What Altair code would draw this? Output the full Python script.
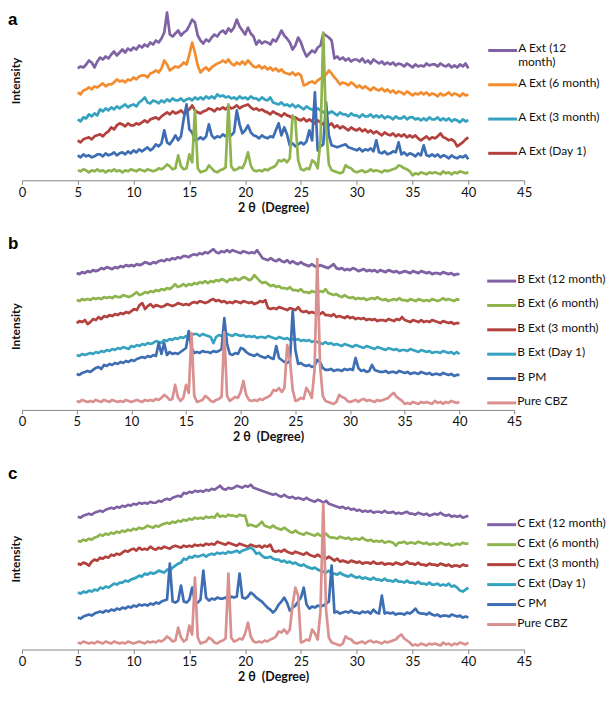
import altair as alt
import pandas as pd

FONT = "Lato"

# sampling grid of the diffractograms (2-theta, degrees)
X = [5 + 0.25 * i for i in range(141)]
X_TICKS = [0, 5, 10, 15, 20, 25, 30, 35, 40, 45]

# ---------------- panel a ----------------
A_12M = [112,114,113,116, 120,118,113,119, 123,121,124,122, 126,129,125,128, 131,128,132,130,
         133,131,135,133, 136,134,138,136, 140,138,142,148, 168,146,144,147, 150,145,148,150,
         155,161,158,145, 140,137,141,139, 143,146,144,148, 150,147,152,149, 153,161,154,150,
         146,153,147,144, 136,140,137,139, 138,136,141,139, 144,150,145,142, 138,131,135,143,
         138,130,124,127, 130,128,133,135, 147,145,143,140, 122,124,121,123, 120,122,119,121,
         121,119,122,118, 120,117,121,119, 117,119,116,118, 116,118,115,117, 116,114,117,115,
         113,116,114,115, 114,117,115,116, 116,114,117,115, 114,116,113,115, 113,116,114,117,
         112]
A_6M = [88,86,90,91, 93,91,94,93, 95,97,94,96, 96,98,101,99, 100,98,101,100,
        103,101,104,105, 105,103,107,108, 110,108,112,120, 116,110,112,114, 113,115,118,116,
        126,138,128,115, 108,111,113,110, 113,115,117,118, 120,118,121,117, 115,118,116,119,
        116,120,117,114, 113,115,112,114, 111,113,110,112, 109,111,108,107, 106,108,105,107,
        105,95,96,98, 99,97,100,102, 103,106,110,107, 103,100,96,98, 97,95,98,96,
        93,95,92,94, 92,90,93,91, 90,92,89,91, 88,90,87,89, 88,86,89,87,
        85,87,86,88, 86,88,85,87, 86,84,87,85, 86,88,85,87, 86,84,87,85,
        86]
A_3M = [61,59,63,62, 66,64,67,65, 71,69,72,70, 73,71,74,72, 74,76,73,75,
        76,74,78,80, 83,78,77,80, 79,77,80,78, 81,79,82,80, 80,82,79,81,
        82,80,83,81, 83,81,84,82, 84,82,86,84, 85,83,84,82, 83,81,84,82,
        83,81,84,82, 82,80,83,81, 80,83,78,77, 76,78,75,76, 74,76,73,75,
        73,71,74,72, 71,69,72,70, 68,70,67,69, 67,65,68,66, 66,64,67,65,
        65,63,66,64, 64,66,63,65, 63,65,62,64, 63,61,64,62, 62,64,61,63,
        63,61,62,60, 62,60,63,61, 61,63,60,62, 60,62,59,61, 60,58,61,59,
        60]
A_D1 = [40,38,41,42, 43,41,44,45, 46,44,47,49, 53,51,55,57, 56,54,57,55,
        55,57,56,58, 60,58,61,62, 63,61,64,66, 68,66,69,67, 68,70,67,69,
        71,75,70,68, 67,69,70,72, 71,69,72,71, 73,71,74,72, 73,75,72,74,
        75,76,73,71, 72,70,71,69, 68,66,69,67, 66,64,67,65, 64,62,63,61,
        60,62,59,61, 59,57,60,58, 56,58,55,57, 53,55,52,54, 52,50,53,51,
        50,52,49,51, 48,50,47,49, 47,45,48,46, 45,47,44,46, 44,46,43,45,
        43,45,42,40, 42,44,41,43, 42,44,47,43, 42,40,41,39, 34,36,38,41,
        43]
A_PM = [25,23,26,24, 25,23,24,26, 26,24,27,25, 26,28,25,27, 28,26,29,27,
        30,28,31,29, 31,33,30,32, 36,34,37,50, 38,36,40,45, 40,44,62,76,
        51,48,40,41, 43,41,44,56, 45,42,44,43, 46,44,47,45, 48,70,56,47,
        50,55,48,45, 44,42,45,43, 42,44,43,50, 57,45,53,46, 35,37,34,36,
        38,36,39,50, 40,88,30,34, 36,78,45,35, 34,33,34,35, 36,33,32,31,
        30,32,29,31, 30,32,29,40, 28,27,29,26, 27,29,28,38, 26,28,25,27,
        26,24,27,25, 35,25,24,26, 24,26,23,25, 24,22,25,23, 22,24,23,25,
        21]
A_CBZ = [10,9,11,10, 8,10,9,11, 9,10,8,10, 9,11,9,10, 8,10,9,11,
         10,9,11,10, 9,11,10,9, 10,12,11,13, 16,14,11,12, 25,14,11,12,
         26,18,70,12, 8,9,10,15, 12,9,8,10, 11,13,76,14, 10,11,13,12,
         18,28,15,10, 9,10,9,11, 10,12,13,15, 20,19,21,18, 22,65,60,20,
         11,10,12,11, 20,18,12,40, 148,53,16,10, 9,8,7,8, 15,13,12,9,
         8,9,10,8, 9,11,9,10, 9,8,10,9, 10,11,12,15, 14,12,11,9,
         5,7,6,8, 7,6,8,7, 8,7,6,9, 7,8,6,8, 7,9,8,7,
         8]

# ---------------- panel b ----------------
B_12M = [137,136,138,137, 139,138,140,139, 140,142,141,143, 142,141,143,142, 144,143,145,144,
         145,144,146,145, 146,148,147,146, 148,147,149,150, 149,151,150,152, 151,153,152,154,
         154,153,155,156, 155,157,156,158, 157,159,161,158, 157,159,158,160, 158,160,159,158,
         157,159,158,157, 158,157,160,156, 152,151,150,152, 150,149,151,149, 148,150,147,149,
         147,146,148,146, 145,144,146,144, 143,145,144,143, 142,144,146,142, 141,142,140,141,
         140,142,141,139, 140,141,139,140, 139,140,138,140, 139,138,140,139, 138,139,137,138,
         139,138,137,139, 138,137,139,138, 137,138,136,137, 137,136,138,137, 136,137,135,136,
         136]
B_6M = [110,109,111,110, 111,110,112,111, 112,111,113,112, 113,112,114,113, 113,115,114,113,
        114,116,118,115, 116,118,117,119, 118,120,119,121, 120,122,121,123, 126,123,124,126,
        124,126,125,127, 126,128,127,129, 127,129,128,130, 129,131,130,128, 131,130,132,130,
        131,133,132,130, 131,135,132,129, 127,128,126,124, 125,123,124,122, 122,121,123,120,
        120,119,121,118, 118,117,119,118, 117,119,118,121, 117,116,115,116, 114,113,115,113,
        112,113,111,112, 111,112,110,111, 112,111,113,111, 110,111,109,110, 111,110,112,110,
        110,109,111,110, 109,111,110,109, 110,109,111,110, 109,110,112,110, 111,110,109,111,
        110]
B_3M = [87,89,88,90, 86,88,91,90, 93,91,94,93, 95,94,96,95, 97,96,98,97,
        99,101,100,105, 107,101,104,106, 103,105,104,103, 104,106,105,104, 105,107,106,105,
        106,105,107,108, 107,109,108,107, 108,110,111,109, 110,108,109,107, 108,107,109,108,
        107,109,108,107, 108,106,107,109, 108,110,102,101, 102,101,103,102, 101,100,102,101,
        100,103,99,98, 99,97,98,97, 97,96,98,95, 95,94,96,93, 94,93,92,94,
        92,93,91,92, 91,92,90,91, 90,91,89,90, 90,89,91,90, 89,91,90,93,
        90,89,88,90, 89,88,90,88, 89,88,90,89, 88,87,89,88, 87,88,86,87,
        87]
B_D1 = [55,54,56,55, 56,57,56,58, 57,59,58,60, 59,61,60,62, 61,63,62,61,
        64,63,65,64, 66,65,67,66, 67,69,68,67, 70,69,71,70, 72,71,73,72,
        74,73,75,76, 76,74,76,75, 74,73,67,73, 75,74,77,76, 75,74,76,75,
        74,75,73,74, 73,74,72,73, 73,72,74,73, 72,71,73,72, 71,72,70,71,
        70,71,69,70, 69,70,68,69, 68,67,66,68, 66,67,65,66, 65,64,66,65,
        64,63,65,64, 63,62,64,63, 62,61,63,62, 61,60,62,61, 60,61,59,60,
        60,59,61,60, 59,58,60,59, 58,59,57,58, 58,57,59,58, 57,58,56,58,
        56]
B_PM = [36,35,37,38, 39,38,40,42, 43,41,45,44, 46,45,47,46, 48,47,49,48,
        50,49,51,52, 53,52,54,53, 55,54,67,56, 67,55,58,56, 57,56,58,60,
        62,79,62,57, 58,57,59,58, 58,57,59,58, 59,61,92,66, 56,55,57,56,
        62,61,58,56, 55,54,56,54, 53,52,54,52, 51,64,52,50, 48,47,49,99,
        60,46,47,45, 44,45,43,44, 50,48,42,40, 40,41,39,40, 40,39,41,40,
        41,40,52,42, 39,40,38,39, 45,40,39,38, 38,39,37,38, 38,37,39,38,
        37,38,36,37, 37,36,38,37, 36,37,35,36, 36,35,37,36, 35,36,34,35,
        35]
B_CBZ = [9,8,10,9, 8,9,8,10, 9,8,10,9, 8,10,9,8, 9,8,10,9,
         8,9,10,9, 8,10,9,10, 9,11,10,12, 15,13,10,11, 25,13,9,12,
         25,17,77,14, 8,9,10,14, 12,9,8,10, 11,13,78,14, 9,11,13,12,
         18,29,15,10, 9,10,9,11, 10,12,13,15, 20,19,22,18, 22,65,50,20,
         9,10,12,11, 22,18,12,40, 151,45,14,9, 8,7,6,8, 15,13,12,9,
         8,9,10,8, 10,11,9,10, 9,8,10,9, 10,11,12,15, 17,13,11,9,
         6,7,6,8, 7,6,8,7, 8,7,6,9, 7,8,6,8, 7,9,8,7,
         8]

# ---------------- panel c ----------------
C_12M = [133,132,134,135, 136,135,137,138, 139,138,140,141, 142,141,143,142, 144,143,145,144,
         146,145,147,146, 147,146,148,147, 147,149,148,150, 151,150,152,153, 154,153,157,156,
         158,157,159,158, 159,158,160,159, 161,160,162,164, 161,160,162,161, 162,164,163,162,
         164,163,165,162, 161,160,159,158, 157,156,155,156, 154,153,155,153, 152,153,151,152,
         151,150,152,150, 149,148,150,149, 147,149,146,145, 144,143,142,143, 141,142,140,141,
         139,140,138,139, 138,139,137,138, 138,137,139,137, 137,138,136,137, 136,137,138,136,
         136,135,137,136, 135,136,134,135, 136,135,137,135, 134,135,133,134, 133,134,132,133,
         134]
C_6M = [109,108,110,109, 111,110,112,113, 115,114,116,115, 117,116,118,117, 119,118,120,119,
        121,120,122,121, 122,124,123,122, 124,123,125,126, 127,126,128,127, 129,128,130,129,
        131,130,132,131, 132,131,133,132, 133,132,136,133, 134,133,135,134, 134,133,135,134,
        134,124,125,124, 123,125,128,124, 123,122,124,122, 121,120,122,120, 118,117,119,117,
        116,115,117,116, 115,114,116,114, 114,116,113,112, 112,111,113,112, 111,112,110,111,
        111,110,112,110, 109,110,108,109, 108,109,107,108, 108,107,104,107, 107,108,106,107,
        107,106,108,107, 106,107,105,106, 106,105,107,106, 105,106,104,105, 106,105,107,106,
        106]
C_3M = [86,85,87,86, 84,88,90,89, 92,91,93,92, 95,94,96,95, 97,99,98,100,
        101,99,102,100, 101,100,103,101, 100,102,101,103, 102,101,103,104, 103,102,104,103,
        104,103,105,104, 105,104,106,105, 106,105,108,107, 106,105,107,106, 105,104,106,105,
        104,103,105,104, 103,104,102,104, 103,105,99,98, 99,98,100,98, 97,96,98,97,
        96,95,97,95, 94,93,95,93, 92,91,93,91, 89,91,88,89, 88,87,89,88,
        87,88,86,87, 87,86,88,86, 86,87,85,86, 86,85,87,86, 85,86,88,86,
        86,85,87,85, 85,84,86,85, 85,84,86,85, 84,85,83,84, 84,83,85,84,
        84]
C_D1 = [57,56,58,57, 59,58,60,59, 62,61,63,62, 64,66,65,67, 67,69,68,70,
        71,72,74,73, 76,75,77,76, 77,79,78,77, 80,79,82,84, 86,87,91,90,
        93,92,94,93, 94,95,93,95, 96,95,97,96, 97,96,98,97, 98,99,97,99,
        100,101,102,100, 96,97,94,92, 92,93,91,90, 90,88,89,87, 88,86,87,85,
        84,85,83,82, 81,82,80,79, 78,77,79,76, 76,75,77,75, 74,73,75,73,
        72,73,71,72, 71,70,72,70, 70,69,71,69, 69,68,70,68, 68,67,69,67,
        67,66,68,66, 66,65,67,65, 65,66,64,65, 64,66,63,64, 62,59,58,60,
        62]
C_PM = [32,31,33,34, 35,34,36,37, 38,37,39,38, 40,39,41,40, 42,41,43,42,
        44,43,45,44, 45,44,46,45, 47,46,48,49, 50,86,48,47, 49,64,48,47,
        50,62,48,47, 50,79,52,49, 51,50,52,51, 51,52,50,53, 52,53,76,52,
        51,53,57,55, 52,50,48,45, 42,40,37,40, 45,48,52,47, 39,42,44,48,
        52,62,45,41, 43,42,44,43, 44,46,48,84, 37,38,36,37, 38,37,39,37,
        37,36,38,37, 38,36,40,37, 36,54,36,37, 36,37,35,36, 36,35,37,36,
        38,41,37,36, 36,35,37,35, 34,35,33,34, 34,33,35,34, 33,34,32,33,
        32]
C_CBZ = [7,6,8,7, 6,7,6,8, 7,6,8,7, 6,8,7,6, 7,6,8,7,
         6,7,8,7, 6,8,7,8, 7,9,8,10, 13,11,8,9, 22,12,8,10,
         24,15,72,12, 6,7,8,12, 10,7,6,8, 9,11,76,12, 8,9,11,10,
         16,27,13,8, 7,8,7,9, 8,10,11,13, 18,17,20,16, 20,45,62,54,
         7,8,10,9, 20,16,10,38, 146,40,12,7, 6,5,4,6, 13,11,10,7,
         6,7,8,6, 8,9,7,8, 7,6,8,7, 8,9,10,13, 15,11,9,7,
         4,5,4,6, 5,4,6,5, 6,5,4,7, 5,6,4,6, 5,7,6,5,
         7]

PURPLE, ORANGE, TEAL, RED = "#7E62A3", "#F28C2E", "#35A2BF", "#B3413E"
BLUE, GREEN, PINK = "#3D6DB3", "#8DB44D", "#D9908F"

A_NAMES = ["A Ext (12 month)", "A Ext (6 month)", "A Ext (3 month)", "A Ext (Day 1)", "A PM", "Pure CBZ (a)"]
A_LEGEND = ["A Ext (12\nmonth)", "A Ext (6 month)", "A Ext (3 month)", "A Ext (Day 1)"]
B_NAMES = ["B Ext (12 month)", "B Ext (6 month)", "B Ext (3 month)", "B Ext (Day 1)", "B PM", "Pure CBZ"]
C_NAMES = ["C Ext (12 month)", "C Ext (6 month)", "C Ext (3 month)", "C Ext (Day 1)", "C PM", "Pure CBZ"]


def panel(letter, names, series, colors, legend_labels, H, W, leg_x, leg_range, title_y, letter_y):
    rows = []
    for n, ys in zip(names, series):
        assert len(ys) == len(X), (n, len(ys))
        for x, y in zip(X, ys):
            rows.append({"x": x, "y": y, "series": n})
    df = pd.DataFrame(rows)
    cscale = alt.Scale(domain=names, range=colors)
    xenc = alt.X("x:Q", scale=alt.Scale(domain=[0, 45], nice=False, zero=False),
                 axis=alt.Axis(values=X_TICKS, title="2 θ\u00a0 (Degree)", grid=False,
                               domainColor="#868686", tickColor="#868686", tickSize=4,
                               labelFont=FONT, labelFontSize=13, labelColor="#111", labelPadding=2,
                               labelFlush=False, titleFont=FONT, titleFontSize=12.5,
                               titleFontWeight="bold", titleColor="#111", titlePadding=2))
    yenc = alt.Y("y:Q", scale=alt.Scale(domain=[0, H], nice=False, zero=False),
                 axis=alt.Axis(title="Intensity", labels=False, ticks=False, domain=False, grid=False,
                               titleFont=FONT, titleFontSize=12, titleFontWeight="bold",
                               titleColor="#111", titleX=1, titleY=title_y, titleBaseline="bottom"))
    lines = []
    for n in names:
        lines.append(
            alt.Chart(df).transform_filter(alt.datum.series == n)
            .mark_line(strokeWidth=2.7, strokeJoin="round")
            .encode(x=xenc, y=yenc, color=alt.Color("series:N", scale=cscale, legend=None))
        )
    line_layer = alt.layer(*lines)

    leg_df = pd.DataFrame({"series": names[:len(legend_labels)], "label": legend_labels,
                           "row": list(range(len(legend_labels)))})
    ly = alt.Y("row:O", axis=None, scale=alt.Scale(type="point", range=leg_range, padding=0))
    leg_rule = alt.Chart(leg_df).mark_rule(strokeWidth=3).encode(
        x=alt.value(leg_x), x2=alt.value(leg_x + 29), y=ly,
        color=alt.Color("series:N", scale=cscale, legend=None))
    leg_text = alt.Chart(leg_df).mark_text(align="left", baseline="top", dy=-7, lineBreak="\n",
                                           font=FONT, fontSize=12, color="#111").encode(
        x=alt.value(leg_x + 30), y=ly, text="label:N")
    let = alt.Chart(pd.DataFrame({"t": [letter]})).mark_text(
        align="left", baseline="top", font="Liberation Sans", fontSize=17, fontWeight="bold",
        color="#000").encode(x=alt.value(-14), y=alt.value(letter_y), text="t:N")
    return alt.layer(line_layer, leg_rule, leg_text, let).resolve_scale(y="independent").properties(
        width=W, height=H)


pa = panel("a", A_NAMES, [A_12M, A_6M, A_3M, A_D1, A_PM, A_CBZ],
           [PURPLE, ORANGE, TEAL, RED, BLUE, GREEN], A_LEGEND,
           172, 503, 467, [42, 145], 72, 3)
pb = panel("b", B_NAMES, [B_12M, B_6M, B_3M, B_D1, B_PM, B_CBZ],
           [PURPLE, GREEN, RED, TEAL, BLUE, PINK], B_NAMES,
           162, 493, 466, [33, 155], 78, -12)
pc = panel("c", C_NAMES, [C_12M, C_6M, C_3M, C_D1, C_PM, C_CBZ],
           [PURPLE, GREEN, RED, TEAL, BLUE, PINK], C_NAMES,
           167, 503, 466, [42, 142], 76, -17)

chart = alt.vconcat(pa, pb, pc, spacing=21).resolve_scale(color="independent").properties(
    padding={"left": 0, "top": 0, "right": 0, "bottom": 0}
).configure_view(stroke=None)

chart.save("out.html", embed_options={"renderer": "svg", "actions": False})
